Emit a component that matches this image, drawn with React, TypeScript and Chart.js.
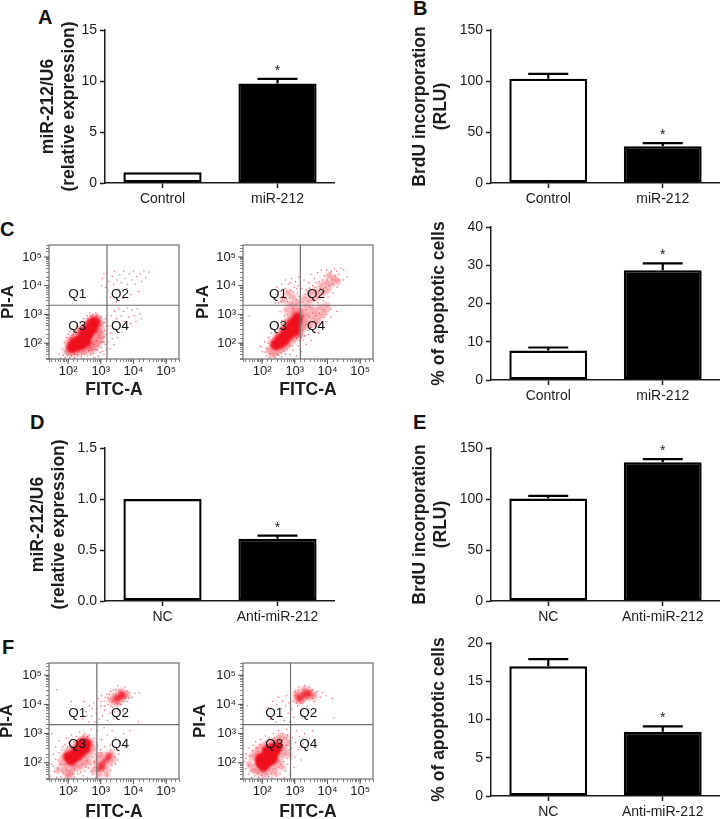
import React, { useEffect, useRef } from "react";
import { Chart, registerables } from "chart.js";

Chart.register(...registerables);

const FONT = "'Liberation Sans', Arial, sans-serif";
const INK = "#1c1c1c";
const RED = "#f0101e";

// ---------- bar chart data ----------
const catsUp = ["Control", "miR-212"];
const catsDown = ["NC", "Anti-miR-212"];
const valuesA = [1.05, 9.75];
const errorTopA = [1.05, 10.2];
const valuesB = [102.3, 36];
const errorTopB = [107, 39];
const valuesC = [7.7, 28.7];
const errorTopC = [8.5, 30.5];
const valuesD = [1.0, 0.61];
const errorTopD = [1.0, 0.64];
const valuesE = [100.4, 136];
const errorTopE = [103, 139];
const valuesF = [16.95, 8.4];
const errorTopF = [17.9, 9.1];
const starIndex = 1;

// ---------- flow cytometry data (log10 of FITC-A, log10 of PI-A) ----------
const decadeLabels: Record<number, string> = { 100: "10²", 1000: "10³", 10000: "10⁴", 100000: "10⁵" };
const quadrantNames = ["Q1", "Q2", "Q3", "Q4"];

const gatesC1 = [3.19, 3.32];
const gatesC2 = [3.17, 3.32];
const gatesF1 = [2.88, 3.31];
const gatesF2 = [2.87, 3.31];

const labelsC1 = [[2.28, 3.71], [3.59, 3.71], [2.28, 2.59], [3.59, 2.59]];
const labelsC2 = [[2.49, 3.71], [3.65, 3.71], [2.49, 2.59], [3.65, 2.59]];
const labelsF1 = [[2.28, 3.7], [3.59, 3.7], [2.28, 2.62], [3.59, 2.62]];
const labelsF2 = [[2.37, 3.7], [3.41, 3.7], [2.37, 2.62], [3.41, 2.62]];

const coreC1 = [[2.12,1.85],[2.25,1.9],[2.4,1.95],[2.55,2.05],[2.2,2.0],[2.35,2.1],[2.5,2.2],[2.62,2.3],[2.48,2.35],[2.62,2.45],[2.75,2.5],[2.72,2.65],[2.82,2.72]];
const haloC1 = [[1.95,1.72],[2.0,1.9],[2.02,2.05],[2.1,2.15],[2.18,2.22],[2.28,2.3],[2.36,2.42],[2.45,2.52],[2.55,2.62],[2.62,2.75],[2.72,2.84],[2.82,2.9],[2.93,2.86],[2.98,2.72],[3.0,2.55],[2.94,2.42],[2.9,2.28],[2.84,2.15],[2.78,2.02],[2.7,1.92],[2.62,1.82],[2.5,1.75],[2.38,1.68],[2.22,1.66],[2.08,1.65],[3.02,2.3],[3.0,2.12],[2.92,1.98],[2.82,1.85],[2.7,1.72]];
const specksC1 = [[1.72,1.62],[1.78,1.48],[1.82,1.8],[1.85,1.58],[1.88,2.02],[1.9,1.5],[1.92,1.7],[1.95,2.2],[1.98,1.55],[2.0,2.32],[2.05,1.5],[2.05,2.4],[2.1,1.56],[2.12,2.28],[2.15,2.48],[2.2,1.5],[2.22,2.38],[2.26,2.6],[2.3,1.55],[2.32,2.5],[2.38,2.72],[2.4,1.52],[2.42,2.62],[2.48,2.85],[2.5,1.6],[2.52,2.72],[2.58,2.95],[2.6,1.55],[2.6,2.85],[2.66,3.05],[2.7,1.6],[2.68,2.95],[2.75,3.0],[2.78,1.65],[2.8,1.5],[2.85,3.05],[2.88,1.75],[2.9,2.98],[2.92,1.55],[2.98,1.68],[3.0,2.92],[3.02,1.85],[3.05,2.05],[3.08,2.7],[3.1,1.6],[3.1,2.22],[3.12,2.45],[3.14,1.95],[3.14,2.85],[3.16,2.6],[3.17,1.75],[3.17,2.3],
[1.93,1.62],[1.97,1.82],[2.0,1.62],[2.03,1.98],[2.06,1.72],[2.08,2.18],[2.12,1.68],[2.16,2.32],[2.19,1.6],[2.24,2.44],[2.28,1.62],[2.3,2.36],[2.34,1.7],[2.38,2.56],[2.42,1.62],[2.46,2.64],[2.48,1.7],[2.52,2.48],[2.56,1.66],[2.58,2.76],[2.63,1.74],[2.66,2.82],[2.68,1.84],[2.72,2.92],[2.76,1.78],[2.78,2.86],[2.8,1.96],[2.84,1.78],[2.86,2.94],[2.88,2.08],[2.92,1.9],[2.94,2.78],[2.96,2.2],[2.98,2.02],[3.02,2.62],[3.04,2.4],[3.06,2.18],[3.06,1.72],[3.1,2.02],[3.12,2.72],
[3.22,2.05],[3.25,2.6],[3.28,1.8],[3.3,2.35],[3.32,2.95],[3.35,2.15],[3.38,2.72],[3.4,1.95],[3.42,3.12],[3.45,2.48],[3.48,2.85],[3.52,2.2],[3.55,3.2],[3.58,2.62],[3.62,2.95],[3.65,2.38],[3.7,3.1],[3.72,2.75],[3.78,2.5],[3.82,3.22],[3.85,2.9],[3.92,2.68],[3.95,3.15],[4.02,2.95],[4.08,2.75],[4.12,3.2],[4.2,3.02],[4.25,2.85],
[3.02,4.0],[3.05,4.25],[3.1,4.42],[3.15,3.95],[3.2,4.48],[3.25,4.15],[3.3,3.6],[3.35,4.32],[3.4,4.05],[3.42,4.5],[3.48,3.45],[3.5,4.2],[3.55,3.85],[3.58,4.38],[3.62,4.1],[3.68,3.55],[3.7,4.5],[3.75,4.25],[3.8,3.9],[3.82,4.05],[3.88,4.42],[3.92,3.7],[3.95,4.2],[4.0,4.5],[4.05,4.05],[4.1,4.32],[4.15,3.8],[4.2,4.42],[4.25,4.15],[4.32,4.52],[4.38,4.28],[4.48,4.48]];

const coreC2 = [[2.42,1.95],[2.55,2.0],[2.68,2.1],[2.55,2.15],[2.7,2.25],[2.82,2.3],[2.75,2.42],[2.88,2.5],[2.98,2.55],[2.92,2.68],[3.05,2.72],[3.08,2.88],[3.0,2.42]];
const haloC2 = [[2.2,1.75],[2.3,1.6],[2.35,1.85],[2.3,2.05],[2.42,1.68],[2.45,2.22],[2.55,1.75],[2.55,2.38],[2.68,1.82],[2.65,2.52],[2.8,1.95],[2.72,2.68],[2.9,2.1],[2.8,2.8],[3.02,2.2],[2.88,2.95],[3.1,2.3],[2.95,3.1],[3.18,2.5],[3.05,3.05],[3.22,2.7],[3.15,3.15],[3.28,2.9],[3.25,3.1],[3.3,2.55],[3.38,2.75],[3.42,3.0],[3.48,2.62],[3.52,3.2],[3.58,2.85],[3.65,3.05],[3.7,2.72],[3.78,3.25],[3.8,2.95],[3.92,3.1],[3.98,3.3],[3.35,3.3],[3.2,2.3],[2.98,3.28],[2.85,3.35],[2.75,3.15],[3.1,3.42],[3.3,3.55],[3.5,3.5],[3.7,3.6],[3.85,3.75],[4.0,3.85],[4.1,4.05],[3.95,4.1],[4.2,4.25],[4.05,4.35],[3.8,4.0],[3.62,3.8],[4.3,4.15],[3.45,3.75],[2.95,3.6],[2.8,3.75],[2.65,3.5]];
const specksC2 = [[1.95,1.88],[2.0,1.7],[2.08,2.05],[2.12,1.55],[2.15,1.82],[2.2,2.2],[2.22,1.5],[2.28,2.35],[2.4,1.5],[2.4,2.45],[2.5,1.58],[2.5,2.62],[2.6,1.52],[2.6,2.78],[2.72,1.62],[2.68,2.95],[2.85,1.6],[2.55,3.1],[2.95,1.75],[3.05,1.55],[3.1,1.9],[3.2,1.7],[3.25,2.1],[3.35,1.95],[3.42,2.3],[3.5,2.1],[3.6,2.4],[3.72,2.35],[3.85,2.6],[3.95,2.75],[4.1,2.9],[4.05,3.15],[4.2,3.3],[4.28,3.1],[1.6,2.95],
[2.35,3.55],[2.42,3.7],[2.45,3.95],[2.5,3.4],[2.55,3.8],[2.6,4.05],[2.62,3.62],[2.7,3.9],[2.72,4.2],[2.78,3.45],[2.8,4.05],[2.88,3.85],[2.9,4.25],[2.98,3.95],[3.02,4.15],[3.08,3.75],[3.12,4.3],[3.1,4.0],
[3.22,3.9],[3.28,4.2],[3.35,3.85],[3.42,4.1],[3.5,4.4],[3.55,4.0],[3.6,4.25],[3.7,4.45],[3.75,4.15],[3.82,4.55],[3.9,4.35],[3.98,4.55],[4.12,4.5],[4.22,4.58],[4.35,4.4],[4.42,4.6],[4.5,4.55],[4.6,4.3],[4.48,4.2],[4.3,3.95],[4.18,3.75],[4.02,3.6],[3.88,3.48],[3.7,3.4],
[2.1,1.68],[2.18,2.0],[2.24,1.62],[2.26,1.92],[2.33,2.18],[2.36,1.55],[2.44,2.35],[2.47,1.6],[2.52,2.5],[2.58,1.66],[2.6,2.65],[2.66,1.72],[2.7,2.8],[2.76,1.8],[2.78,3.0],[2.84,1.88],[2.86,2.86],[2.92,1.92],[2.94,3.2],[3.0,2.05],[3.02,3.0],[3.06,2.15],[3.1,3.2],[3.14,2.08],[3.16,3.3],[3.2,2.2],[3.24,2.45],[3.26,2.95],[3.3,2.25],[3.34,2.65],[3.36,3.15],[3.4,2.45],[3.44,2.9],[3.46,3.25],[3.5,2.55],[3.54,3.05],[3.56,2.72],[3.62,2.6],[3.64,2.95],[3.68,3.2],[3.74,2.85],[3.76,3.05],[3.82,2.7],[3.86,3.15],[3.9,2.9],[3.96,3.0],[4.02,3.3],[4.1,3.2],[3.25,3.42],[3.32,3.7],[3.4,3.45],[3.46,3.92],[3.56,3.6],[3.62,3.95],[3.66,4.1],[3.72,3.75],[3.78,3.9],[3.84,4.2],[3.88,3.9],[3.94,3.95],[4.0,4.2],[4.06,4.0],[4.08,4.45],[4.14,4.2],[4.18,4.05],[4.24,4.35],[4.28,4.5],[4.36,4.2],[2.4,3.4],[2.58,3.45],[2.66,3.72],[2.74,3.55],[2.84,3.58],[2.92,3.42],[2.96,3.78],[3.04,3.5],[3.06,3.9],[3.14,3.62],[2.86,4.1],[2.74,3.82]];

const coreF1 = [[2.02,2.2],[2.15,2.22],[2.28,2.25],[2.4,2.38],[2.1,2.1],[2.25,2.38],[2.38,2.52],[2.52,2.5],[2.55,2.65],[2.42,2.65]];
const blobF1 = [[3.0,1.95],[3.1,2.05],[3.2,2.15],[3.05,1.85],[2.95,1.8],[3.25,2.25],[3.55,4.25],[3.62,4.35],[3.48,4.2],[3.68,4.28]];
const haloF1 = [[1.8,2.0],[1.85,2.2],[1.9,1.8],[1.95,2.38],[2.0,1.95],[2.05,2.45],[2.1,1.7],[2.2,2.55],[2.25,1.95],[2.3,2.68],[2.4,2.1],[2.42,2.8],[2.55,2.22],[2.55,2.85],[2.68,2.35],[2.7,2.72],[2.78,2.5],[2.15,1.85],[2.05,1.55],[2.35,1.85],[2.5,1.95],[2.62,2.05],[2.78,1.75],[2.85,2.0],[2.92,2.2],[2.95,1.6],[3.05,2.25],[3.15,1.82],[3.25,2.0],[3.32,2.3],[3.38,2.12],[3.42,4.1],[3.5,4.05],[3.62,4.15],[3.72,4.4],[3.8,4.3],[3.58,4.45],[3.4,4.3],[3.3,4.15],[3.18,1.62],[1.95,1.6],[1.7,1.75]];
const specksF1 = [[1.45,1.55],[1.5,1.95],[1.55,2.3],[1.58,1.7],[1.62,2.55],[1.65,1.5],[1.7,2.1],[1.72,2.75],[1.78,1.52],[1.8,2.45],[1.85,1.65],[1.9,2.62],[1.95,2.85],[2.0,1.48],[2.02,2.7],[2.1,2.95],[2.2,1.5],[2.25,2.9],[2.3,1.62],[2.35,3.05],[2.45,1.55],[2.5,1.72],[2.5,3.0],[2.6,1.5],[2.62,1.82],[2.65,2.95],[2.7,3.15],[2.75,1.6],[2.8,2.85],[2.85,1.48],[2.85,2.3],[2.9,2.6],[2.9,3.1],[3.0,2.45],[3.02,2.8],[3.1,3.2],[3.12,2.55],[3.2,2.95],[3.28,2.6],[3.35,3.1],[3.42,2.45],[3.45,2.85],[3.55,2.3],[3.6,2.7],[3.7,3.0],[3.75,2.55],[3.9,3.1],[3.3,1.75],[3.45,1.95],[3.52,2.1],[1.5,3.0],
[2.45,3.5],[2.5,4.1],[2.55,3.75],[2.62,3.4],[2.65,3.95],[2.72,3.6],[2.78,4.05],[2.82,3.4],[2.88,3.85],[2.92,4.2],[2.95,3.5],[3.0,3.95],[3.02,4.3],[3.05,3.6],[3.1,4.12],[3.12,3.8],[3.18,4.35],[3.2,3.45],[3.22,4.0],[3.28,3.7],[3.3,4.45],[3.35,3.9],[3.4,3.5],[3.45,4.5],[3.5,3.85],[3.52,4.65],[3.6,4.0],[3.68,3.75],[3.75,4.6],[3.8,4.1],[3.88,4.4],[3.95,4.25],[4.05,4.38],[4.18,4.4],[2.1,4.1],[1.65,4.5],[4.15,3.4],
[1.55,1.88],[1.62,2.12],[1.68,1.82],[1.72,2.35],[1.76,1.95],[1.82,1.72],[1.84,2.55],[1.88,1.95],[1.9,2.3],[1.95,1.75],[1.98,2.55],[2.04,1.7],[2.08,2.6],[2.14,1.62],[2.18,2.72],[2.2,1.78],[2.28,1.72],[2.32,2.8],[2.38,1.68],[2.42,1.95],[2.46,2.92],[2.54,1.85],[2.58,2.08],[2.6,2.9],[2.68,1.95],[2.72,1.7],[2.74,2.2],[2.76,2.6],[2.8,2.05],[2.82,1.85],[2.86,2.7],[2.9,1.85],[2.94,2.35],[2.96,1.72],[3.02,2.35],[3.08,1.72],[3.12,1.95],[3.16,2.35],[3.2,1.55],[3.28,2.15],[3.34,1.92],[3.42,2.2],[3.3,2.45],
[3.0,4.1],[3.12,3.95],[3.22,4.22],[3.3,3.95],[3.36,4.12],[3.42,3.75],[3.46,4.35],[3.52,4.02],[3.56,4.15],[3.64,4.22],[3.7,4.1],[3.74,4.2],[3.82,4.45],[3.86,4.22],[3.26,4.35],[3.38,4.5],[3.14,4.25],[2.86,3.7],[2.74,3.85],[2.58,3.6]];

const coreF2 = [[1.95,2.0],[2.05,2.0],[2.2,2.05],[2.32,2.15],[1.95,2.15],[2.1,2.2],[2.25,2.3],[2.4,2.4],[2.15,2.4],[2.3,2.48],[2.45,2.55],[2.05,1.88]];
const blobF2 = [[3.15,4.2],[3.3,4.32],[3.42,4.38]];
const haloF2 = [[1.62,1.95],[1.7,2.2],[1.72,1.78],[1.8,2.35],[1.82,1.72],[1.9,2.5],[1.95,1.68],[2.05,2.6],[2.1,1.6],[2.2,2.65],[2.25,1.75],[2.35,2.75],[2.4,1.9],[2.5,2.75],[2.52,2.05],[2.6,2.62],[2.62,2.25],[2.68,2.45],[2.72,2.85],[2.8,2.65],[2.82,2.3],[2.55,2.9],[2.4,1.65],[2.62,1.85],[3.05,4.2],[3.15,4.12],[3.2,4.3],[3.3,4.42],[3.35,4.3],[3.42,4.45],[3.5,4.35],[3.05,4.38],[3.25,4.2],[3.45,4.25],[3.6,4.3],[3.12,4.3],[3.28,4.5]];
const specksF2 = [[1.45,2.05],[1.5,1.8],[1.52,2.3],[1.58,1.62],[1.6,2.5],[1.68,1.5],[1.72,2.6],[1.78,1.55],[1.8,2.72],[1.9,1.5],[1.95,2.8],[2.02,1.48],[2.1,2.92],[2.2,1.52],[2.22,2.85],[2.3,1.5],[2.35,3.0],[2.45,1.55],[2.5,3.1],[2.55,1.62],[2.62,3.0],[2.68,1.5],[2.72,1.72],[2.78,1.95],[2.75,3.15],[2.85,1.6],[2.88,2.15],[2.9,2.5],[2.92,2.85],[2.98,1.85],[3.0,2.2],[3.02,2.7],[3.05,3.1],[3.1,2.45],[3.15,2.9],[3.2,2.1],[3.25,2.65],[3.3,3.0],[3.4,2.5],[3.45,2.85],[3.55,3.1],[3.62,2.7],[1.55,3.95],[4.2,3.55],
[2.2,3.9],[2.25,3.5],[2.32,4.1],[2.38,3.7],[2.42,3.4],[2.45,4.0],[2.5,4.25],[2.55,3.6],[2.58,3.85],[2.62,4.12],[2.68,3.45],[2.72,3.95],[2.75,4.3],[2.8,3.7],[2.82,4.05],[2.85,3.4],[2.9,3.85],[2.95,4.1],[2.98,3.55],[3.02,4.45],[3.08,3.95],[3.12,4.6],[3.18,3.8],[3.25,4.05],[3.3,4.65],[3.38,3.95],[3.45,4.6],[3.55,4.5],[3.6,4.1],[3.7,4.45],[3.78,4.25],[3.85,4.4],[3.95,4.3],[4.15,4.2],
[1.5,2.15],[1.58,1.9],[1.62,2.25],[1.66,1.72],[1.7,2.42],[1.74,1.92],[1.78,2.1],[1.82,2.52],[1.86,1.62],[1.88,2.38],[1.94,2.62],[1.98,1.56],[2.02,2.48],[2.06,1.72],[2.12,2.72],[2.16,1.62],[2.18,2.55],[2.26,2.78],[2.28,1.62],[2.34,1.8],[2.38,2.85],[2.42,1.78],[2.46,2.65],[2.5,1.85],[2.54,2.78],[2.56,1.95],[2.6,2.42],[2.64,2.78],[2.66,2.05],[2.7,2.3],[2.74,2.6],[2.76,2.15],[2.78,2.95],[2.84,2.45],[2.84,2.75],[3.05,4.05],[3.1,4.28],[3.18,4.05],[3.22,4.38],[3.28,4.12],[3.34,4.42],[3.38,4.2],[3.44,4.32],[3.5,4.48],[3.56,4.2],[3.64,4.4],[3.0,4.3],[3.12,4.5]];

const logPoints = (list: number[][]) => list.map(([a, b]) => ({ x: 10 ** a, y: 10 ** b }));

type Box = { left: number; x0: number; x1: number; top: number; bottom: number; titleX: number };

function BarPanel(p: {
  box: Box; cats: string[]; values: number[]; errorTop: number[]; max: number; step: number;
  title: string | string[]; decimals?: number;
}) {
  const ref = useRef<HTMLCanvasElement>(null);
  const { box } = p;
  const padTop = 14;
  const below = 32;
  const lineH = 21;
  const fontSize = 17.5;
  useEffect(() => {
    const errorPlugin = {
      id: "errors",
      afterDatasetsDraw(chart: any) {
        const { ctx } = chart;
        const meta = chart.getDatasetMeta(0);
        const ys = chart.scales.y;
        ctx.save();
        ctx.strokeStyle = "#000";
        ctx.lineWidth = 2.2;
        p.errorTop.forEach((top, i) => {
          if (top <= p.values[i]) return;
          const x = meta.data[i].x;
          const yTop = ys.getPixelForValue(top);
          const yVal = ys.getPixelForValue(p.values[i]);
          ctx.beginPath();
          ctx.moveTo(x, yVal);
          ctx.lineTo(x, yTop);
          ctx.moveTo(x - 20, yTop);
          ctx.lineTo(x + 20, yTop);
          ctx.stroke();
        });
        const sx = meta.data[starIndex].x;
        const sy = ys.getPixelForValue(p.errorTop[starIndex]);
        ctx.fillStyle = INK;
        ctx.font = `14px ${FONT}`;
        ctx.textAlign = "center";
        ctx.textBaseline = "alphabetic";
        ctx.fillText("*", sx, sy - 4);
        ctx.restore();
      },
    };
    const chart = new Chart(ref.current!, {
      type: "bar",
      data: {
        labels: p.cats,
        datasets: [{
          data: p.values,
          backgroundColor: ["#ffffff", "#000000"],
          borderColor: "#000000",
          borderWidth: 2.4,
          borderSkipped: false,
          barPercentage: 0.68,
          categoryPercentage: 1,
        }],
      },
      options: {
        animation: false,
        responsive: false,
        layout: { padding: { top: padTop, left: 0, right: 0, bottom: 0 } },
        plugins: { legend: { display: false }, tooltip: { enabled: false } },
        scales: {
          x: {
            afterFit: (s: any) => { s.height = below; },
            offset: true,
            grid: { offset: false, drawOnChartArea: false, tickLength: 5, tickColor: INK, tickWidth: 1.5 },
            border: { color: INK, width: 1.5 },
            ticks: { color: INK, font: { family: FONT, size: 14 }, padding: 3, maxRotation: 0, autoSkip: false },
          },
          y: {
            min: 0, max: p.max,
            afterFit: (s: any) => { s.width = box.x0 - box.left; },
            grid: { drawOnChartArea: false, tickLength: 5, tickColor: INK, tickWidth: 1.5 },
            border: { color: INK, width: 1.5 },
            ticks: {
              stepSize: p.step, color: INK, font: { family: FONT, size: 14 }, padding: 3,
              callback: (v: any) => (p.decimals ? Number(v).toFixed(p.decimals) : String(v)),
            },
            title: {
              display: true, text: p.title, color: INK,
              font: { family: FONT, size: fontSize, weight: "bold", lineHeight: lineH / fontSize },
              padding: { top: box.titleX - box.left - lineH / 2, bottom: 0 },
            },
          },
        },
      } as any,
      plugins: [errorPlugin],
    });
    return () => chart.destroy();
  }, []);
  return (
    <canvas
      ref={ref}
      width={box.x1 - box.left}
      height={box.bottom - box.top + padTop + below}
      style={{ position: "absolute", left: box.left, top: box.top - padTop, display: "block" }}
    />
  );
}

function FlowPanel(p: {
  box: Box; titleBottomPad: number; core: number[][]; blob?: number[][]; halo: number[][]; specks: number[][];
  gates: number[]; labels: number[][];
}) {
  const ref = useRef<HTMLCanvasElement>(null);
  const { box } = p;
  const padTop = 12;
  const padRight = 6;
  const below = 46;
  useEffect(() => {
    const softness = {
      id: "softness",
      beforeDatasetDraw(chart: any, args: any) {
        const blur = chart.data.datasets[args.index].softPx;
        chart.ctx.save();
        if (blur) chart.ctx.filter = `blur(${blur}px)`;
      },
      afterDatasetDraw(chart: any) {
        chart.ctx.restore();
      },
    };
    const overlay = {
      id: "overlay",
      afterDatasetsDraw(chart: any) {
        const { ctx, chartArea: a, scales } = chart;
        const gx = scales.x.getPixelForValue(10 ** p.gates[0]);
        const gy = scales.y.getPixelForValue(10 ** p.gates[1]);
        ctx.save();
        ctx.strokeStyle = "#6f6f6f";
        ctx.lineWidth = 1.2;
        ctx.strokeRect(a.left, a.top, a.right - a.left, a.bottom - a.top);
        ctx.beginPath();
        ctx.moveTo(gx, a.top);
        ctx.lineTo(gx, a.bottom);
        ctx.moveTo(a.left, gy);
        ctx.lineTo(a.right, gy);
        ctx.stroke();
        ctx.strokeStyle = "#555";
        ctx.lineWidth = 1;
        ctx.beginPath();
        Object.keys(decadeLabels).forEach((k) => {
          const xp = scales.x.getPixelForValue(Number(k));
          const yp = scales.y.getPixelForValue(Number(k));
          ctx.moveTo(xp, a.bottom);
          ctx.lineTo(xp, a.bottom + 5);
          ctx.moveTo(a.left, yp);
          ctx.lineTo(a.left - 5, yp);
        });
        ctx.stroke();
        ctx.fillStyle = "#111";
        ctx.font = `13.5px ${FONT}`;
        ctx.textAlign = "center";
        ctx.textBaseline = "middle";
        p.labels.forEach(([lx, ly], i) => {
          ctx.fillText(quadrantNames[i], scales.x.getPixelForValue(10 ** lx), scales.y.getPixelForValue(10 ** ly));
        });
        ctx.restore();
      },
    };
    const tickLabel = (v: any) => decadeLabels[Number(v)] ?? "";
    const dataset = (list: number[][], radius: number, color: string, softPx: number) => ({
      data: logPoints(list), pointRadius: radius, pointBackgroundColor: color, pointBorderWidth: 0, showLine: false, softPx,
    });
    const datasets = [
      dataset(p.halo, 3.2, "rgba(240,30,45,0.42)", 1.4),
      dataset(p.specks, 0.75, "rgba(238,30,45,0.65)", 0),
      ...(p.blob ? [dataset(p.blob, 3, "rgba(240,16,30,0.7)", 0.8)] : []),
      dataset(p.core, 5.6, RED, 0.8),
    ];
    const chart = new Chart(ref.current!, {
      type: "scatter",
      data: { datasets },
      options: {
        animation: false,
        responsive: false,
        layout: { padding: { top: padTop, right: padRight, left: 0, bottom: 0 } },
        plugins: { legend: { display: false }, tooltip: { enabled: false } },
        scales: {
          x: {
            type: "logarithmic", min: 26, max: 248000,
            afterFit: (s: any) => { s.height = below; },
            grid: { drawOnChartArea: false, tickLength: 3, tickColor: "#666", tickWidth: 0.8 },
            border: { display: false },
            ticks: { callback: tickLabel, color: INK, font: { family: FONT, size: 13 }, padding: 2, maxRotation: 0, autoSkip: false },
            title: {
              display: true, text: "FITC-A", color: INK,
              font: { family: FONT, size: 17.5, weight: "bold", lineHeight: 1.2 },
              padding: { top: 0, bottom: p.titleBottomPad },
            },
          },
          y: {
            type: "logarithmic", min: 28, max: 262000,
            afterFit: (s: any) => { s.width = box.x0 - box.left; },
            grid: { drawOnChartArea: false, tickLength: 3, tickColor: "#666", tickWidth: 0.8 },
            border: { display: false },
            ticks: { callback: tickLabel, color: INK, font: { family: FONT, size: 13 }, padding: 4, autoSkip: false },
            title: {
              display: true, text: "PI-A", color: INK,
              font: { family: FONT, size: 17, weight: "bold", lineHeight: 1.2 },
              padding: { top: box.titleX - box.left - 10.2, bottom: 0 },
            },
          },
        },
      } as any,
      plugins: [softness, overlay],
    });
    return () => chart.destroy();
  }, []);
  return (
    <canvas
      ref={ref}
      width={box.x1 - box.left + padRight}
      height={box.bottom - box.top + padTop + below}
      style={{ position: "absolute", left: box.left, top: box.top - padTop, display: "block" }}
    />
  );
}

const letters: [string, number, number][] = [
  ["A", 38, 17], ["B", 413, 8], ["C", 0, 229], ["D", 30, 422], ["E", 413, 422], ["F", 2, 647],
];

export default function App() {
  return (
    <div style={{ position: "absolute", left: 0, top: 0, width: 720, height: 819, overflow: "hidden", background: "#fff" }}>
      {letters.map(([t, x, y]) => (
        <div key={t} style={{
          position: "absolute", left: x, top: y, transform: "translateY(-50%)",
          font: `bold 20px ${FONT}`, lineHeight: 1, color: "#111",
        }}>{t}</div>
      ))}
      <BarPanel box={{ left: 0, x0: 105, x1: 335, top: 30, bottom: 183, titleX: 48 }} cats={catsUp} values={valuesA} errorTop={errorTopA} max={15} step={5} title={["miR-212/U6", "(relative expression)"]} />
      <BarPanel box={{ left: 400, x0: 491, x1: 720, top: 30, bottom: 183, titleX: 420 }} cats={catsUp} values={valuesB} errorTop={errorTopB} max={150} step={50} title={["BrdU incorporation", "(RLU)"]} />
      <FlowPanel box={{ left: -10, x0: 49, x1: 179, top: 245, bottom: 359, titleX: 8 }} titleBottomPad={4.8} core={coreC1} halo={haloC1} specks={specksC1} gates={gatesC1} labels={labelsC1} />
      <FlowPanel box={{ left: 190, x0: 243, x1: 373, top: 245, bottom: 359, titleX: 203 }} titleBottomPad={4.8} core={coreC2} halo={haloC2} specks={specksC2} gates={gatesC2} labels={labelsC2} />
      <BarPanel box={{ left: 400, x0: 491, x1: 720, top: 227, bottom: 380, titleX: 439 }} cats={catsUp} values={valuesC} errorTop={errorTopC} max={40} step={10} title="% of apoptotic cells" />
      <BarPanel box={{ left: 0, x0: 105, x1: 335, top: 448, bottom: 601, titleX: 38 }} cats={catsDown} values={valuesD} errorTop={errorTopD} max={1.5} step={0.5} decimals={1} title={["miR-212/U6", "(relative expression)"]} />
      <BarPanel box={{ left: 400, x0: 491, x1: 720, top: 448, bottom: 601, titleX: 420 }} cats={catsDown} values={valuesE} errorTop={errorTopE} max={150} step={50} title={["BrdU incorporation", "(RLU)"]} />
      <FlowPanel box={{ left: -10, x0: 49, x1: 179, top: 663, bottom: 779, titleX: 7 }} titleBottomPad={2} core={coreF1} blob={blobF1} halo={haloF1} specks={specksF1} gates={gatesF1} labels={labelsF1} />
      <FlowPanel box={{ left: 190, x0: 243, x1: 373, top: 663, bottom: 779, titleX: 200 }} titleBottomPad={2} core={coreF2} blob={blobF2} halo={haloF2} specks={specksF2} gates={gatesF2} labels={labelsF2} />
      <BarPanel box={{ left: 400, x0: 491, x1: 720, top: 643, bottom: 796, titleX: 439 }} cats={catsDown} values={valuesF} errorTop={errorTopF} max={20} step={5} title="% of apoptotic cells" />
    </div>
  );
}
